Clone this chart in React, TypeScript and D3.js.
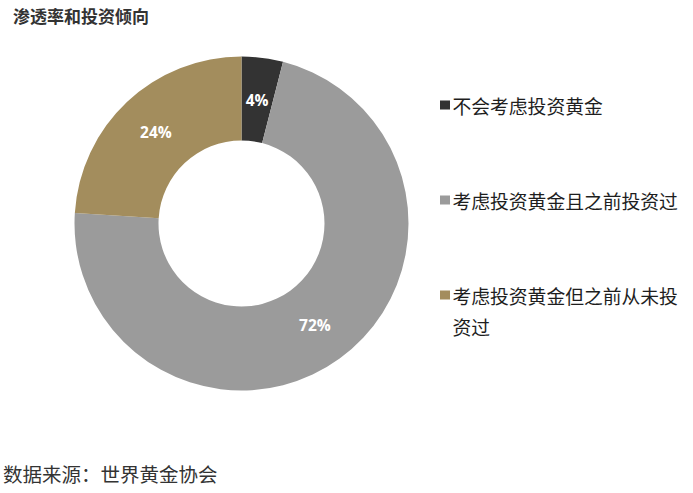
import React from "react";
import * as d3 from "d3";

const categories: string[] = ["不会考虑投资黄金", "考虑投资黄金且之前投资过", "考虑投资黄金但之前从未投资过"];
const values: number[] = [4, 72, 24];
const colors: string[] = ["#333333", "#9b9b9b", "#a38d5d"];
const legendLines: string[][] = [["不会考虑投资黄金"], ["考虑投资黄金且之前投资过"], ["考虑投资黄金但之前从未投", "资过"]];
const title = "渗透率和投资倾向";
const source = "数据来源：世界黄金协会";

export default function App() {
  const W = 693, H = 493;
  const cx = 241.5, cy = 223.5, rOuter = 167, rInner = 83;
  const pie = d3.pie<number>().sort(null).value((d) => d).startAngle(0).endAngle(2 * Math.PI);
  const arcs = pie(values);
  const arcGen = d3.arc<d3.PieArcDatum<number>>().innerRadius(rInner).outerRadius(rOuter);
  const labelArc = d3.arc<d3.PieArcDatum<number>>().innerRadius(125).outerRadius(125);
  const total = d3.sum(values);
  const legendY = [105, 200, 295];
  const cjk = "'Noto Sans CJK SC', 'Noto Sans', sans-serif";

  return (
    <div style={{ position: "absolute", left: 0, top: 0, width: W, height: H, background: "#fff" }}>
      <svg width={W} height={H} style={{ display: "block" }}>
        <text x={13} y={15} dominantBaseline="central" fontFamily={cjk} fontWeight={700} fontSize={17} fill="#333">
          {title}
        </text>
        <g transform={`translate(${cx},${cy})`}>
          {arcs.map((a, i) => (
            <path key={i} d={arcGen(a) || ""} fill={colors[i]} />
          ))}
          {arcs.map((a, i) => {
            const [lx, ly] = labelArc.centroid(a);
            return (
              <text key={"l" + i} x={lx} y={ly} textAnchor="middle" dominantBaseline="central"
                fontFamily="'Open Sans', 'Noto Sans', sans-serif" fontWeight={700} fontSize={15.5} fill="#fff">
                {Math.round((values[i] / total) * 100)}%
              </text>
            );
          })}
        </g>
        {categories.map((c, i) => (
          <g key={"lg" + i}>
            <rect x={440} y={legendY[i] - 4.5} width={10} height={9} fill={colors[i]} />
            {legendLines[i].map((ln, j) => (
              <text key={j} x={452.5} y={legendY[i] + j * 31.5} dominantBaseline="central"
                fontFamily={cjk} fontSize={18.8} fill="#1e1e1e">
                {ln}
              </text>
            ))}
          </g>
        ))}
        <text x={3} y={473} dominantBaseline="central" fontFamily={cjk} fontSize={19.5} fill="#333">
          {source}
        </text>
      </svg>
    </div>
  );
}
